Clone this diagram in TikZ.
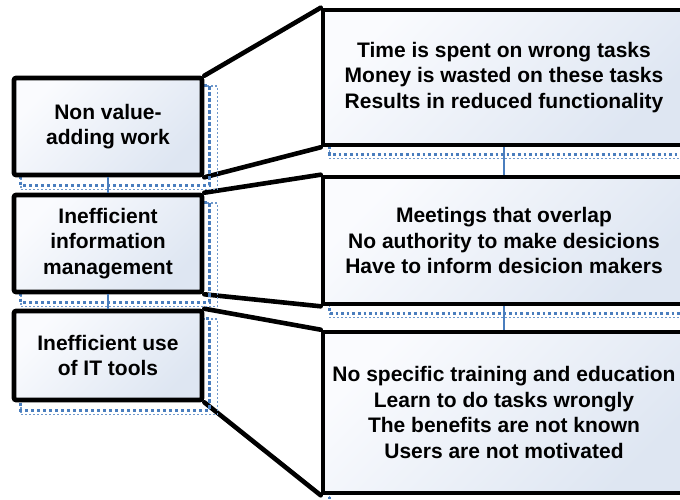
\documentclass[tikz,border=0pt]{standalone}
\usepackage{fontspec}
\setmainfont{Liberation Sans}[Ligatures=NoCommon]
\usetikzlibrary{backgrounds}
\definecolor{linkblue}{RGB}{74,126,190}
\definecolor{boxlight}{RGB}{250,251,254}
\definecolor{boxshade}{RGB}{222,230,242}
\newcommand{\cardfont}{\fontsize{21}{25.5}\selectfont\bfseries}
\begin{document}
\begin{tikzpicture}[x=1pt,y=-1pt,
  card/.style={draw=black, line width=4.6pt, top color=boxlight, bottom color=boxshade,
    shading angle=45, inner sep=0pt, align=center, font=\cardfont},
  leftcard/.style={card, rounded corners=2pt, minimum width=188pt},
  rightcard/.style={card, minimum width=362pt},
  callout/.style={draw=black, line width=4.6pt, line cap=round},
  link/.style={draw=linkblue, line width=2.6pt},
  shadowfine/.style={draw=linkblue!80, line width=1.6pt, dash pattern=on 2pt off 2pt},
  shadowcoarse/.style={draw=linkblue, line width=2.8pt, dash pattern=on 3.2pt off 2.8pt},
  shadowdots/.style={draw=linkblue, line width=2.6pt, dash pattern=on 2.6pt off 3pt}]
\useasboundingbox (0,0) rectangle (680,499);

% problem boxes on the left
\node[leftcard, minimum height=97pt] (b1) at (108,126.5) {Non value-\\adding work};
\node[leftcard, minimum height=97pt] (b2) at (108,243.5) {Inefficient\\information\\management};
\node[leftcard, minimum height=89pt] (b3) at (108,355.5) {Inefficient use\\of IT tools};

% detail boxes on the right
\node[rightcard, minimum height=135pt] (ra) at (504,77.5)
  {Time is spent on wrong tasks\\Money is wasted on these tasks\\Results in reduced functionality};
\node[rightcard, minimum height=127pt] (rb) at (504,240.5)
  {Meetings that overlap\\No authority to make desicions\\Have to inform desicion makers};
\node[rightcard, minimum height=161pt] (rc) at (504,412.5)
  {No specific training and education\\Learn to do tasks wrongly\\The benefits are not known\\Users are not motivated};

\begin{scope}[on background layer]
  % callout edges joining each box to its details
  \draw[callout] (b1.north east) -- (ra.north west);
  \draw[callout] (b1.south east) -- (ra.south west);
  \draw[callout] (b2.north east) -- (rb.north west);
  \draw[callout] (b2.south east) -- (rb.south west);
  \draw[callout] (b3.north east) -- (rc.north west);
  \draw[callout] (b3.south east) -- (rc.south west);
  % dotted drop shadows
  \foreach \b in {b1,b2,b3}{
    \draw[shadowfine] ([shift={(9,10)}]\b.north west) rectangle ([shift={(13,12)}]\b.south east);
    \draw[shadowcoarse] ([shift={(9,10)}]\b.north west) rectangle ([shift={(5,8)}]\b.south east);
  }
  \foreach \b in {ra,rb,rc}{
    \draw[shadowfine, line width=1.2pt] ([shift={(9,10)}]\b.north west) rectangle ([shift={(13,11)}]\b.south east);
    \draw[shadowdots] ([shift={(9,10)}]\b.north west) rectangle ([shift={(5,7)}]\b.south east);
  }
\end{scope}

% links between consecutive boxes
\draw[link] (b1.south) -- (b2.north);
\draw[link] (b2.south) -- (b3.north);
\draw[link] (ra.south) -- (rb.north);
\draw[link] (rb.south) -- (rc.north);
\end{tikzpicture}
\end{document}
